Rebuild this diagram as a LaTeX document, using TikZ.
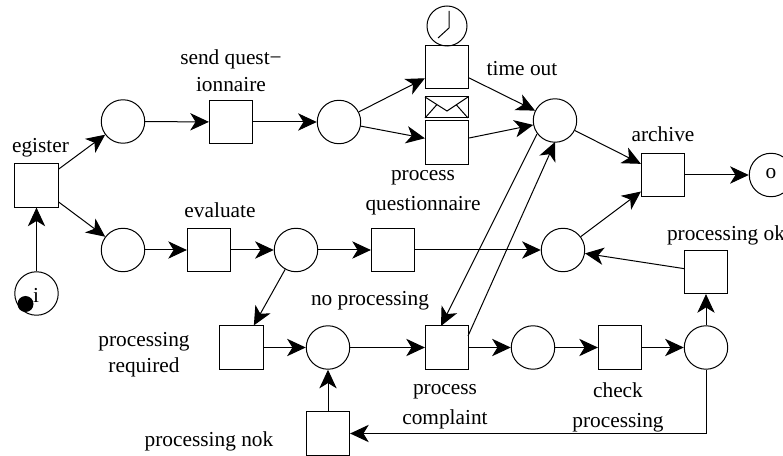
\documentclass[tikz,border=0pt]{standalone}
\usepackage{fontspec}
\setmainfont{Liberation Serif}
\usetikzlibrary{arrows.meta}
\tikzset{
 place/.style={draw,circle,minimum size=32.6pt,inner sep=0pt,line width=.75pt},
 trans/.style={draw,rectangle,minimum size=32.4pt,inner sep=0pt,line width=.75pt},
 lab/.style={font=\fontsize{16}{22.5}\selectfont,inner sep=0pt,align=center},
 arc/.style={line width=.75pt,-{Stealth[length=14pt,width=13pt,inset=4pt]}},
 plain/.style={line width=.75pt}
}
\begin{document}
\begin{tikzpicture}[x=0.75pt,y=-0.75pt]
\useasboundingbox (0,0) rectangle (783,456);
\begin{scope}
\clip (0,0) rectangle (783,456);
\node[place] (i) at (36.5,293.5) {};
\node[trans] (reg) at (36.5,185.5) {};
\node[place] (p1) at (123,121.5) {};
\node[place] (p2) at (123,250) {};
\node[trans] (send) at (231,122) {};
\node[place] (p3) at (339,122) {};
\node[trans] (tout) at (447,67) {};
\node[trans] (pq) at (447,142.5) {};
\node[place] (p4) at (555,120.5) {};
\node[trans] (arch) at (663,175) {};
\node[place] (o) at (771,175) {};
\node[trans] (eval) at (209,250) {};
\node[place] (p8) at (296,250) {};
\node[trans] (np) at (393,250) {};
\node[place] (p9) at (563,250) {};
\node[trans] (pok) at (706,272) {};
\node[trans] (req) at (241.5,347.5) {};
\node[place] (p7) at (328,347.5) {};
\node[trans] (comp) at (447,347.5) {};
\node[place] (p6) at (533,347.5) {};
\node[trans] (chk) at (620,347.5) {};
\node[place] (p5) at (706,347.5) {};
\node[trans] (nok) at (328,433.5) {};
% token, clock, envelope
\fill (25.5,304) circle (6pt);
\node[draw,circle,minimum size=30pt,inner sep=0pt,line width=.75pt] (clk) at (447,26) {};
\draw[plain] (449,11) -- (449,28) -- (438,38);
\draw[plain] (425,97) rectangle (468,118);
\draw[plain] (425,97) -- (447,111) -- (468,97) (425,118) -- (437,104.5) (468,118) -- (456,104.5);
% labels
\node[lab] (l1) at (40.5,148) {egister};
\node[lab] (l2) at (36,295) {i};
\node[lab] (l3) at (771,174) {o};
\node[lab] (l4) at (231,71) {send quest−\\[-2.25pt]ionnaire};
\node[lab] (l5) at (522,69) {time out};
\node[lab] (l6) at (663,134) {archive};
\node[lab] (l7) at (220,210) {evaluate};
\node[lab] (l8) at (423,193) {process\\questionnaire};
\node[lab] (l9) at (726,235) {processing ok};
\node[lab] (l10) at (370,301) {no processing};
\node[lab] (l11) at (144,354.5) {processing\\[-3pt]required};
\node[lab] (l12) at (445,407) {process\\complaint};
\node[lab] (l13) at (618,407) {check\\processing};
\node[lab] (l14) at (209,441) {processing nok};
% arcs
\coordinate (dn0) at (537,134);
\coordinate (dn1) at (441,326);
\coordinate (up0) at (468,336);
\coordinate (up1) at (555,142);
\draw[arc] (i) -- (reg);
\draw[arc] (reg) -- (p1);
\draw[arc] (reg) -- (p2);
\draw[arc] (p1) -- (send);
\draw[arc] (send) -- (p3);
\draw[arc] (p3) -- (tout);
\draw[arc] (p3) -- (pq);
\draw[arc] (tout) -- (p4);
\draw[arc] (pq) -- (p4);
\draw[arc] (p4) -- (arch);
\draw[arc] (arch) -- (o);
\draw[arc] (p2) -- (eval);
\draw[arc] (eval) -- (p8);
\draw[arc] (p8) -- (np);
\draw[arc] (np) -- (p9);
\draw[arc] (p9) -- (arch);
\draw[arc] (pok) -- (p9);
\draw[arc] (p8) -- (req);
\draw[arc] (req) -- (p7);
\draw[arc] (p7) -- (comp);
\draw[arc] (comp) -- (p6);
\draw[arc] (p6) -- (chk);
\draw[arc] (chk) -- (p5);
\draw[arc] (p5) -- (pok);
\draw[arc] (nok) -- (p7);
\draw[arc] (p5.south) |- (nok.east);
\draw[arc] (dn0) -- (dn1);
\draw[arc] (up0) -- (up1);
\end{scope}
\end{tikzpicture}
\end{document}
